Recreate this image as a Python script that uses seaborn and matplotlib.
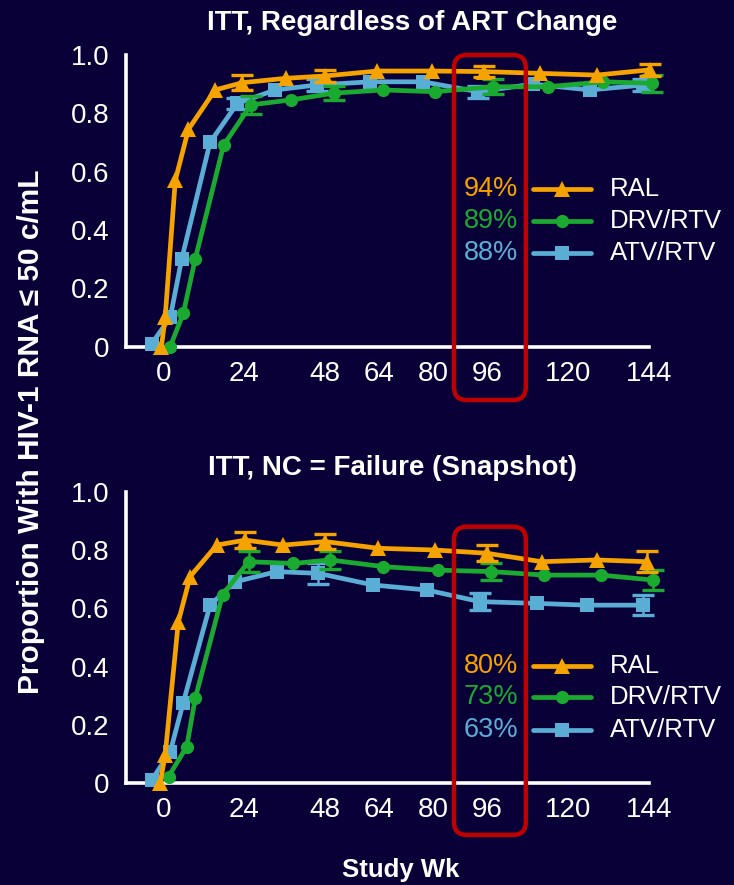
import numpy as np
import pandas as pd
import matplotlib
matplotlib.use('Agg')
import matplotlib.pyplot as plt
import matplotlib.transforms as mtransforms
from matplotlib import font_manager
from matplotlib.patches import FancyBboxPatch
from matplotlib.lines import Line2D
import seaborn as sns

# --- data (x = study week as plotted, y = proportion) ---
ARMS = ['RAL', 'DRV/RTV', 'ATV/RTV']
X_TICKS = [0, 24, 48, 64, 80, 96, 120, 144]
Y_TICKS = [0, 0.2, 0.4, 0.6, 0.8, 1.0]
Y_TICK_LABELS = ['0', '0.2', '0.4', '0.6', '0.8', '1.0']

TITLE_TOP = 'ITT, Regardless of ART Change'
TITLE_BOT = 'ITT, NC = Failure (Snapshot)'
PCT_TOP = ['94%', '89%', '88%']
PCT_BOT = ['80%', '73%', '63%']

RAL_X_TOP = [-0.5, 0.6, 3.6, 7.5, 15.4, 23.5, 36.4, 48, 63.5, 79.6, 95, 111.7, 128.5, 144.3]
RAL_Y_TOP = [0.0, 0.10, 0.57, 0.745, 0.88, 0.905, 0.92, 0.928, 0.945, 0.945, 0.943, 0.937, 0.931, 0.949]
RAL_E_TOP = [0, 0, 0, 0, 0, 0.025, 0, 0.02, 0, 0, 0.02, 0, 0, 0.02]

DRV_X_TOP = [2.1, 6.0, 9.5, 17.9, 26.0, 38.0, 50.5, 65.3, 80.6, 97.9, 114.0, 130.5, 145.0]
DRV_Y_TOP = [0.0, 0.115, 0.30, 0.69, 0.829, 0.846, 0.869, 0.88, 0.874, 0.891, 0.891, 0.908, 0.903]
DRV_E_TOP = [0, 0, 0, 0, 0.03, 0, 0.025, 0, 0, 0.025, 0, 0, 0.03]

ATV_X_TOP = [-3.4, 2.1, 5.5, 13.9, 22.0, 33.2, 45.5, 61.3, 77.0, 93.4, 109.6, 126.5, 142.3]
ATV_Y_TOP = [0.01, 0.10, 0.30, 0.70, 0.834, 0.88, 0.897, 0.908, 0.908, 0.874, 0.90, 0.88, 0.897]
ATV_E_TOP = [0, 0, 0, 0, 0.02, 0, 0.02, 0, 0, 0.02, 0, 0, 0.02]

RAL_X_BOT = [-0.9, 0.6, 4.5, 8.0, 15.9, 24.3, 35.6, 48, 63.8, 80.6, 95.9, 112.2, 128.5, 143.3]
RAL_Y_BOT = [0.0, 0.097, 0.554, 0.709, 0.817, 0.834, 0.817, 0.829, 0.806, 0.80, 0.789, 0.76, 0.766, 0.76]
RAL_E_BOT = [0, 0, 0, 0, 0, 0.028, 0, 0.025, 0, 0, 0.028, 0, 0, 0.035]

DRV_X_BOT = [1.6, 7.0, 9.5, 17.6, 25.3, 38.6, 49.5, 65.3, 81.5, 97.3, 113.0, 129.9, 145.2]
DRV_Y_BOT = [0.023, 0.126, 0.291, 0.646, 0.76, 0.754, 0.766, 0.743, 0.731, 0.726, 0.714, 0.714, 0.697]
DRV_E_BOT = [0, 0, 0, 0, 0.035, 0, 0.03, 0, 0, 0.03, 0, 0, 0.035]

ATV_X_BOT = [-3.4, 2.1, 5.9, 13.9, 21.3, 33.7, 46, 62.3, 78.1, 93.9, 110.7, 125.5, 142.2]
ATV_Y_BOT = [0.011, 0.108, 0.274, 0.611, 0.691, 0.726, 0.72, 0.68, 0.663, 0.623, 0.617, 0.611, 0.611]
ATV_E_BOT = [0, 0, 0, 0, 0, 0, 0.035, 0, 0, 0.03, 0, 0, 0.035]

# --- styling ---
BG = '#0a0038'
FG = 'white'
RED = '#c00000'
COLORS = {'RAL': '#f5a300', 'DRV/RTV': '#1aaa30', 'ATV/RTV': '#5aaed6'}
MARKERS = {'RAL': '^', 'DRV/RTV': 'o', 'ATV/RTV': 's'}
MSIZE = {'RAL': 11, 'DRV/RTV': 9.5, 'ATV/RTV': 9.5}
DRAW_ORDER = ['ATV/RTV', 'DRV/RTV', 'RAL']


def build_frame(xs, ys, es):
    parts = []
    for arm, x, y, e in zip(ARMS, xs, ys, es):
        parts.append(pd.DataFrame({'arm': arm, 'week': x, 'value': y, 'err': e}))
    return pd.concat(parts, ignore_index=True)


def style_axes(ax):
    ax.set_facecolor(BG)
    for side in ['top', 'right']:
        ax.spines[side].set_visible(False)
    for side in ['left', 'bottom']:
        ax.spines[side].set_color(FG)
        ax.spines[side].set_linewidth(2.6)
    ax.set_xlim(-11, 144)
    ax.set_ylim(0, 1)
    ax.set_xticks(X_TICKS)
    ax.set_xticklabels([str(t) for t in X_TICKS])
    ax.set_xticks([-11], minor=True)
    ax.set_yticks(Y_TICKS)
    ax.set_yticklabels(Y_TICK_LABELS)
    ax.tick_params(which='both', direction='out', length=8, width=2.6, color=FG,
                   labelcolor=FG, labelsize=20)
    ax.tick_params(axis='x', pad=2)
    ax.tick_params(axis='y', pad=4)
    ax.set_xlabel('')
    ax.set_ylabel('')
    ax.grid(False)


def draw_panel(ax, df, pct, legend_y):
    for arm in DRAW_ORDER:
        sub = df[df['arm'] == arm]
        c = COLORS[arm]
        sns.lineplot(data=sub, x='week', y='value', ax=ax, color=c, lw=3.4,
                     marker=MARKERS[arm], markersize=MSIZE[arm], mec=c, mew=0,
                     sort=True, estimator=None, clip_on=False, zorder=3)
        eb = sub[sub['err'] > 0]
        ax.errorbar(eb['week'], eb['value'], yerr=eb['err'], fmt='none', ecolor=c,
                    elinewidth=1.8, capsize=8, capthick=2.4, clip_on=False, zorder=3)

    # legend drawn by hand: percentage, line with marker, name
    trans = mtransforms.blended_transform_factory(ax.transData, ax.transAxes)
    for arm, p, y in zip(ARMS, pct, legend_y):
        c = COLORS[arm]
        ax.add_line(Line2D([109.6, 126.8], [y, y], transform=trans, color=c, lw=3.4,
                           clip_on=False))
        ax.add_line(Line2D([118.2], [y], transform=trans, color=c, marker=MARKERS[arm],
                           markersize=MSIZE[arm], mew=0, clip_on=False))
        ax.text(132.5, y, arm, transform=trans, color=FG, fontsize=18.5,
                ha='left', va='center')
        ax.text(105.2, y, p, transform=trans, color=c, fontsize=19.5,
                ha='right', va='center')


def draw_box(fig, ax, y_top, y_bot):
    # rounded red frame around week 96, x in data units, y in axes units
    trans = mtransforms.blended_transform_factory(ax.transData, ax.transAxes)
    to_in = fig.dpi_scale_trans.inverted()
    x0, y0 = to_in.transform(trans.transform((86.2, y_bot)))
    x1, y1 = to_in.transform(trans.transform((107.5, y_top)))
    box = FancyBboxPatch((x0, y0), x1 - x0, y1 - y0,
                         boxstyle='round,pad=0,rounding_size=0.13',
                         transform=fig.dpi_scale_trans, fill=False,
                         ec=RED, lw=3.2, zorder=10, clip_on=False)
    fig.add_artist(box)


def main():
    sns.set_style('dark', rc={'axes.facecolor': BG, 'figure.facecolor': BG})
    names = {f.name for f in font_manager.fontManager.ttflist}
    font = 'Liberation Sans' if 'Liberation Sans' in names else 'DejaVu Sans'
    plt.rcParams['font.family'] = [font, 'DejaVu Sans']

    top = build_frame([RAL_X_TOP, DRV_X_TOP, ATV_X_TOP],
                      [RAL_Y_TOP, DRV_Y_TOP, ATV_Y_TOP],
                      [RAL_E_TOP, DRV_E_TOP, ATV_E_TOP])
    bot = build_frame([RAL_X_BOT, DRV_X_BOT, ATV_X_BOT],
                      [RAL_Y_BOT, DRV_Y_BOT, ATV_Y_BOT],
                      [RAL_E_BOT, DRV_E_BOT, ATV_E_BOT])

    fig = plt.figure(figsize=(7.34, 8.85), dpi=100, facecolor=BG)
    ax1 = fig.add_axes([0.1717, 0.6083, 0.7125, 0.3296])
    ax2 = fig.add_axes([0.1717, 0.1149, 0.7125, 0.3295])

    draw_panel(ax1, top, PCT_TOP, [0.541, 0.432, 0.322])
    draw_panel(ax2, bot, PCT_BOT, [0.402, 0.295, 0.183])
    style_axes(ax1)
    style_axes(ax2)

    draw_box(fig, ax1, 1.0, -0.183)
    draw_box(fig, ax2, 0.88, -0.177)

    fig.text(412 / 734, 1 - 23 / 885, TITLE_TOP, color=FG, fontsize=20,
             fontweight='bold', ha='center', va='center')
    fig.text(393 / 734, 1 - 468 / 885, TITLE_BOT, color=FG, fontsize=20,
             fontweight='bold', ha='center', va='center')
    fig.text(31 / 734, 1 - 432 / 885, 'Proportion With HIV-1 RNA \u2264 50 c/mL', color=FG,
             fontsize=21.5, fontweight='bold', rotation=90, ha='center', va='center')
    fig.text(401 / 734, 1 - 870 / 885, 'Study Wk', color=FG, fontsize=18.5,
             fontweight='bold', ha='center', va='center')

    fig.savefig('out.png', dpi=100, facecolor=BG)


if __name__ == '__main__':
    main()
